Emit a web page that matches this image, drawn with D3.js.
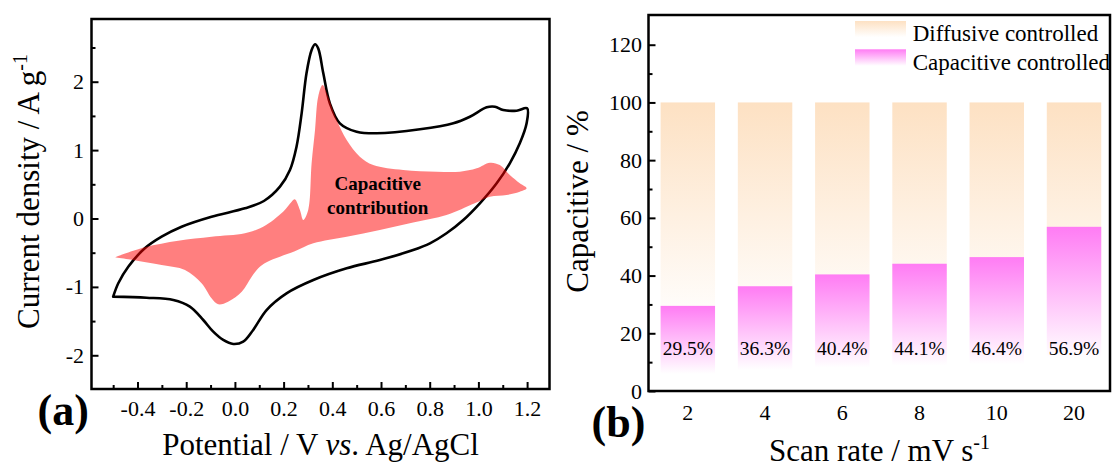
<!DOCTYPE html>
<html><head><meta charset="utf-8">
<script src="https://cdn.jsdelivr.net/npm/d3@7"></script>
<style>
body{margin:0;background:#fff}
svg{display:block}
text{font-family:"Liberation Serif","Times New Roman",serif;fill:#000}
</style>
</head><body>
<svg id="c" width="1112" height="467"></svg>
<script>
// ---------- Data: panel (a) CV curve (V vs Ag/AgCl, A g^-1) ----------
const cvForward = [[-0.500,-1.143],[-0.479,-0.947],[-0.438,-0.705],[-0.370,-0.436],[-0.301,-0.266],
  [-0.219,-0.120],[-0.096,0.026],[0.041,0.149],[0.119,0.256],[0.185,0.465],[0.226,0.709],
  [0.253,1.050],[0.274,1.538],[0.294,2.123],[0.315,2.463],[0.329,2.547],[0.342,2.488],
  [0.363,2.123],[0.390,1.684],[0.431,1.392],[0.500,1.269],[0.582,1.246],[0.760,1.304],
  [0.897,1.392],[0.965,1.488],[1.034,1.626],[1.068,1.635],[1.102,1.586],[1.157,1.576],[1.200,1.611]];
const cvReverse = [[1.198,1.392],[1.170,1.099],[1.129,0.807],[1.075,0.515],[1.006,0.222],
  [0.938,-0.022],[0.869,-0.216],[0.801,-0.363],[0.732,-0.461],[0.595,-0.607],[0.459,-0.728],
  [0.322,-0.899],[0.212,-1.094],[0.130,-1.338],[0.075,-1.630],[0.034,-1.801],[-0.007,-1.835],
  [-0.048,-1.776],[-0.089,-1.655],[-0.130,-1.484],[-0.185,-1.289],[-0.253,-1.192],[-0.363,-1.158],[-0.500,-1.143]];
// capacitive contribution region: upper edge (left tip -> right tip), lower edge (right tip -> left)
const capUpper = [[-0.493,-0.567],[-0.370,-0.421],[-0.233,-0.325],[-0.096,-0.266],[0.041,-0.216],
  [0.116,-0.120],[0.198,0.099],[0.233,0.246],[0.246,0.281],[0.267,0.124],[0.281,-0.022],
  [0.301,0.124],[0.315,0.807],[0.329,1.294],[0.342,1.781],[0.360,1.952],[0.383,1.781],
  [0.418,1.440],[0.459,1.148],[0.513,0.904],[0.568,0.782],[0.691,0.709],[0.828,0.684],
  [0.924,0.684],[0.993,0.734],[1.047,0.816],[1.088,0.782],[1.129,0.636],[1.170,0.515],[1.198,0.442]];
const capLower = [[1.170,0.392],[1.116,0.344],[1.047,0.319],[0.985,0.222],[0.869,0.051],
  [0.732,-0.060],[0.595,-0.168],[0.459,-0.266],[0.322,-0.363],[0.246,-0.480],[0.185,-0.560],
  [0.130,-0.640],[0.096,-0.728],[0.069,-0.851],[0.028,-1.070],[-0.028,-1.216],[-0.069,-1.254],
  [-0.096,-1.167],[-0.137,-0.947],[-0.205,-0.753],[-0.301,-0.680],[-0.438,-0.596]];
const potentialTicks = [-0.4,-0.2,0.0,0.2,0.4,0.6,0.8,1.0,1.2];
const potentialMinor = [-0.5,-0.3,-0.1,0.1,0.3,0.5,0.7,0.9,1.1];
const currentTicks = [-2,-1,0,1,2];
const currentMinor = [-1.5,-0.5,0.5,1.5,2.5];

// ---------- Data: panel (b) ----------
const scanRates = ["2","4","6","8","10","20"];
const capacitivePct = [29.5,36.3,40.4,44.1,46.4,56.9];
const totalPct = [100,100,100,100,100,100];
const pctTicks = [0,20,40,60,80,100,120];
const pctMinor = [10,30,50,70,90,110];
const legendLabels = ["Diffusive controlled","Capacitive controlled"];

const FONT = '"Liberation Serif","Times New Roman",serif';
const svg = d3.select("#c").style("font-family",FONT);
const defs = svg.append("defs");
function vgrad(id, c, stopAt){
  const g = defs.append("linearGradient").attr("id",id).attr("x1",0).attr("y1",0).attr("x2",0).attr("y2",1);
  g.append("stop").attr("offset",0).attr("stop-color",c);
  g.append("stop").attr("offset",stopAt).attr("stop-color","#fff");
}
vgrad("gDiff","#FDE1C3",0.78);
vgrad("gCap","#FF7CF4",0.8);
defs.append("filter").attr("id","soft").append("feGaussianBlur").attr("stdDeviation",0.7);

// ================= Panel (a) =================
const L = {l:91.5, r:549.5, t:19, b:389};
const x = d3.scaleLinear().domain([-0.589,1.292]).range([L.l,L.r]);
const y = d3.scaleLinear().domain([-2.493,2.917]).range([L.b,L.t]);
const gA = svg.append("g");

const line = d3.line().x(d=>x(d[0])).y(d=>y(d[1])).curve(d3.curveCatmullRom.alpha(0.5));
gA.append("path").attr("d", line(cvForward.concat(cvReverse)) + "Z")
  .attr("fill","none").attr("stroke","#000").attr("stroke-width",2.6).attr("stroke-linejoin","round");
gA.append("path").attr("d", line(capUpper.concat(capLower, [capUpper[0]])) + "Z")
  .attr("fill","#ff0000").attr("fill-opacity",0.5).attr("filter","url(#soft)");

function styleAxis(g){ g.attr("font-family",null).attr("font-size",null);
  g.select(".domain").remove(); g.selectAll("line").attr("stroke","#000").attr("stroke-width",2);
  g.selectAll("text").style("font-family",FONT).attr("fill","#000"); }

gA.append("g").attr("transform",`translate(0,${L.b})`)
  .call(d3.axisBottom(x).tickValues(potentialTicks).tickSize(-7).tickPadding(11.5).tickFormat(d=>d.toFixed(1)))
  .call(styleAxis).selectAll("text").style("font-size","22px");
gA.append("g").attr("transform",`translate(0,${L.b})`)
  .call(d3.axisBottom(x).tickValues(potentialMinor).tickSize(-4).tickFormat(""))
  .call(styleAxis);
gA.append("g").attr("transform",`translate(${L.l},0)`)
  .call(d3.axisLeft(y).tickValues(currentTicks).tickSize(-7).tickPadding(7.5).tickFormat(d=>String(d)))
  .call(styleAxis).selectAll("text").style("font-size","22px");
gA.append("g").attr("transform",`translate(${L.l},0)`)
  .call(d3.axisLeft(y).tickValues(currentMinor).tickSize(-4).tickFormat(""))
  .call(styleAxis);
gA.append("rect").attr("x",L.l).attr("y",L.t).attr("width",L.r-L.l).attr("height",L.b-L.t)
  .attr("fill","none").attr("stroke","#000").attr("stroke-width",2.5);

const tA = gA.append("text").attr("transform","translate(39,191.5) rotate(-90)").attr("text-anchor","middle").style("font-size","31px");
tA.append("tspan").text("Current density / A g");
tA.append("tspan").attr("dy",-12).style("font-size","20px").text("-1");
const tX = gA.append("text").attr("x",(L.l+L.r)/2).attr("y",455).attr("text-anchor","middle").style("font-size","31px");
tX.append("tspan").text("Potential / V ");
tX.append("tspan").style("font-style","italic").text("vs");
tX.append("tspan").text(". Ag/AgCl");
gA.append("text").attr("x",37.6).attr("y",425).style("font-size","44px").style("font-weight","bold").text("(a)");
gA.append("text").attr("x",377.7).attr("y",190).attr("text-anchor","middle").style("font-size","19px").style("font-weight","bold").text("Capacitive");
gA.append("text").attr("x",377.7).attr("y",214).attr("text-anchor","middle").style("font-size","19px").style("font-weight","bold").text("contribution");

// ================= Panel (b) =================
const R = {l:648.5, r:1110, t:15, b:391};
const xb = d3.scaleBand().domain(scanRates).range([R.l,R.r]).paddingInner(0.295).paddingOuter(0.135).align(0.58);
const yb = d3.scaleLinear().domain([0,130.3]).range([R.b,R.t]);
const gB = svg.append("g");
gB.selectAll("rect.diff").data(scanRates).join("rect").attr("class","diff")
  .attr("x",d=>xb(d)).attr("width",xb.bandwidth())
  .attr("y",(d,i)=>yb(totalPct[i])).attr("height",(d,i)=>yb(0)-yb(totalPct[i])).attr("fill","url(#gDiff)");
gB.selectAll("rect.cap").data(scanRates).join("rect").attr("class","cap")
  .attr("x",d=>xb(d)).attr("width",xb.bandwidth())
  .attr("y",(d,i)=>yb(capacitivePct[i])).attr("height",(d,i)=>yb(0)-yb(capacitivePct[i])).attr("fill","url(#gCap)");
gB.selectAll("text.pct").data(scanRates).join("text").attr("class","pct")
  .attr("x",d=>xb(d)+xb.bandwidth()/2).attr("y",355).attr("text-anchor","middle").style("font-size","19.5px")
  .text((d,i)=>capacitivePct[i].toFixed(1)+"%");

gB.append("g").attr("transform",`translate(0,${R.b})`)
  .call(d3.axisBottom(xb).tickSize(0).tickPadding(13.5))
  .call(styleAxis).selectAll("text").style("font-size","22px");
gB.append("g").attr("transform",`translate(${R.l},0)`)
  .call(d3.axisLeft(yb).tickValues(pctTicks).tickSize(-7).tickPadding(6.5))
  .call(styleAxis).selectAll("text").style("font-size","22px");
gB.append("g").attr("transform",`translate(${R.l},0)`)
  .call(d3.axisLeft(yb).tickValues(pctMinor).tickSize(-4).tickFormat(""))
  .call(styleAxis);
gB.append("rect").attr("x",R.l).attr("y",R.t).attr("width",R.r-R.l).attr("height",R.b-R.t)
  .attr("fill","none").attr("stroke","#000").attr("stroke-width",2.5);

// legend
const lg = gB.append("g");
["gDiff","gCap"].forEach((gid,i)=>{
  lg.append("rect").attr("x",855).attr("y",21+i*28.3).attr("width",51).attr("height",20.7).attr("fill",`url(#${gid})`);
  lg.append("text").attr("x",912.7).attr("y",41+i*29).style("font-size","23px").text(legendLabels[i]);
});

gB.append("text").attr("transform","translate(588,201.5) rotate(-90)").attr("text-anchor","middle").style("font-size","31px").text("Capacitive / %");
const tXb = gB.append("text").attr("x",879.5).attr("y",461).attr("text-anchor","middle").style("font-size","31px");
tXb.append("tspan").text("Scan rate / mV s");
tXb.append("tspan").attr("dy",-12).style("font-size","20px").text("-1");
gB.append("text").attr("x",591.6).attr("y",437).style("font-size","44px").style("font-weight","bold").text("(b)");
</script>
</body></html>
